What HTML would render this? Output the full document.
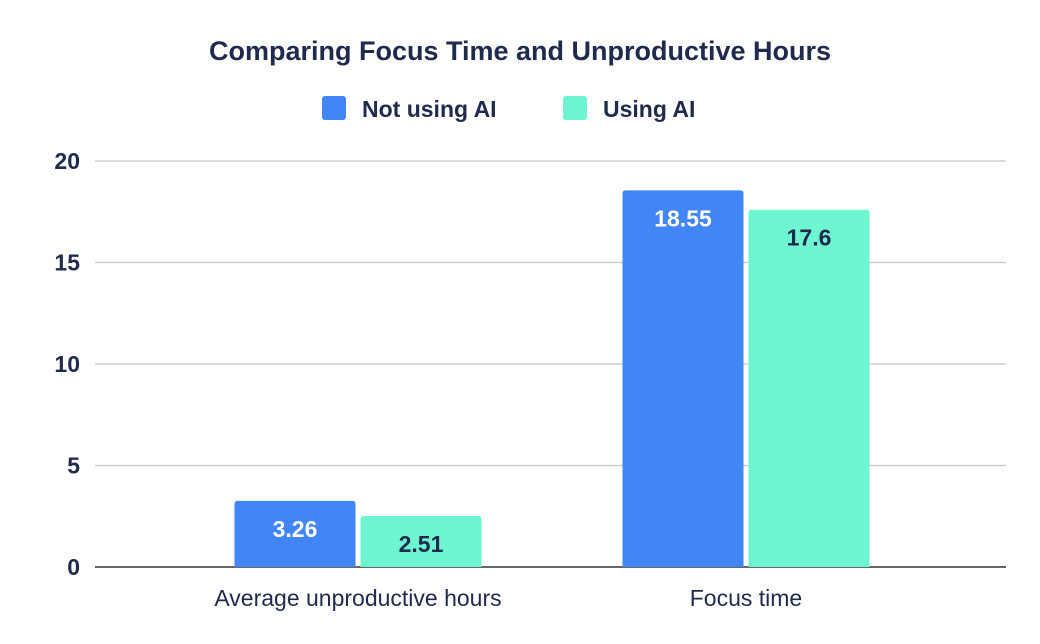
<!DOCTYPE html>
<html><head><meta charset="utf-8"><style>
body{margin:0;background:#fff;}
svg{display:block;font-family:"Liberation Sans","DejaVu Sans",sans-serif;}
</style></head><body>
<svg id="chart" width="1040" height="644">
<text x="520" y="60" text-anchor="middle" font-size="27" font-weight="bold" fill="#1f2a4c">Comparing Focus Time and Unproductive Hours</text>
<g>
<rect x="322" y="96" width="24" height="24" rx="3" fill="#4285f4"/>
<text x="362" y="117" font-size="23" font-weight="bold" fill="#1f2a4c">Not using AI</text>
<rect x="563" y="96" width="24" height="24" rx="3" fill="#6df6d0"/>
<text x="603" y="117" font-size="23" font-weight="bold" fill="#1f2a4c">Using AI</text>
</g>
<g id="grid"></g><g id="bars"></g><g id="labels"></g>
</svg>
<script>
const categories=["Average unproductive hours","Focus time"];
const seriesNames=["Not using AI","Using AI"];
const notUsingAI=[3.26,18.55];
const usingAI=[2.51,17.6];
const valueLabels=[["3.26","18.55"],["2.51","17.6"]];
const yTicks=[0,5,10,15,20];
const NS="http://www.w3.org/2000/svg";
const y0=567,yTop=161,yMax=20,plotL=95,plotR=1006;
const bandL=164,band=388,barW=121,gap=5;
function yS(v){return y0-(v/yMax)*(y0-yTop);}
function xC(i){return bandL+band*(i+0.5);}
function mk(tag,attrs,parent){const e=document.createElementNS(NS,tag);for(const k in attrs)e.setAttribute(k,attrs[k]);parent.appendChild(e);return e;}
const grid=document.getElementById('grid'),bars=document.getElementById('bars'),labels=document.getElementById('labels');
yTicks.forEach(t=>{
 const l=mk('line',{x1:plotL,x2:plotR,y1:yS(t),y2:yS(t),stroke:t===0?'#333':'#c8c8c8','stroke-width':t===0?1.5:1.2},grid);
 
 
 const tx=mk('text',{x:80,y:yS(t)+8,'text-anchor':'end','font-size':23,'font-weight':'bold',fill:'#1f2a4c'},labels);
 tx.textContent=t;
 
 
});
const series=[notUsingAI,usingAI],colors=['#4285f4','#6df6d0'],txtCol=['#ffffff','#1f2a4c'];
categories.forEach((c,i)=>{
 series.forEach((s,j)=>{
  const x=j===0?xC(i)-gap/2-barW:xC(i)+gap/2;
  const yt=yS(s[i]),h=y0-yt,r=3;
  const p=mk('path',{d:`M${x},${y0}V${yt+r}Q${x},${yt} ${x+r},${yt}H${x+barW-r}Q${x+barW},${yt} ${x+barW},${yt+r}V${y0}Z`,fill:colors[j]},bars);
  
  
  const vt=mk('text',{x:x+barW/2,y:yt+36,'text-anchor':'middle','font-size':23,'font-weight':'bold',fill:txtCol[j]},labels);
  vt.textContent=valueLabels[j][i];
  
  
 });
 const ct=mk('text',{x:xC(i),y:606,'text-anchor':'middle','font-size':23,fill:'#1f2a4c'},labels);
 ct.textContent=c;
 
 
});
</script>
</body></html>
